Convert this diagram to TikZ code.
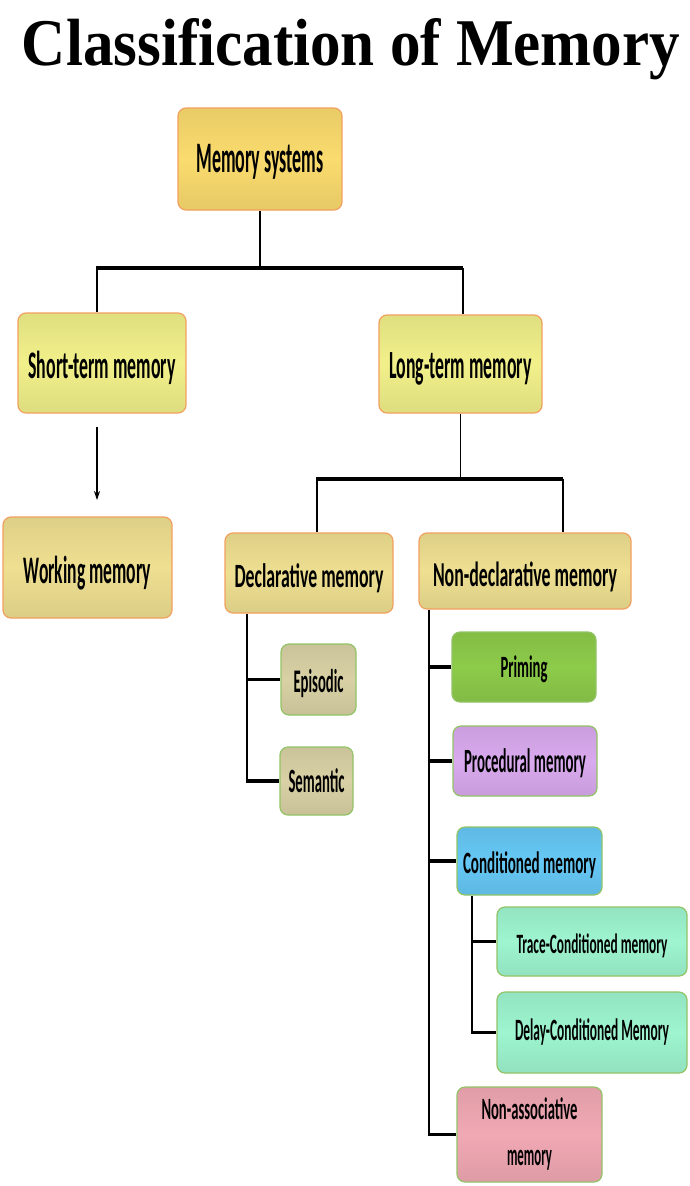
\documentclass[tikz,border=0pt]{standalone}
\usepackage{fontspec}
\setmainfont{Carlito}
\newfontfamily\titlefont{Liberation Serif}
\usetikzlibrary{calc,arrows.meta}
\definecolor{cMS}{HTML}{FADB6E}
\definecolor{cST}{HTML}{F1F08A}
\definecolor{cKH}{HTML}{EEDF91}
\definecolor{cTAN}{HTML}{D9D1A5}
\definecolor{cPR}{HTML}{8DCB4A}
\definecolor{cPROC}{HTML}{D9AAEE}
\definecolor{cCM}{HTML}{66C8F5}
\definecolor{cMINT}{HTML}{9EF5D0}
\definecolor{cNA}{HTML}{F1A9B4}
\definecolor{cOR}{HTML}{F2A060}
\definecolor{cGR}{HTML}{92C466}
\newcommand\bt[3]{\resizebox{#1pt}{\height}{\fontsize{#2pt}{#2pt}\selectfont\bfseries #3}}
\begin{document}
\begin{tikzpicture}[x=1pt,y=-1pt,
  box/.style={rounded corners=8pt, inner sep=0pt, line width=1.2pt, text=black,
    top color=#1!93!black, bottom color=#1!92!black, middle color=#1},
  ybox/.style={box=#1, draw=cOR},
  gbox/.style={box=#1, draw=cGR},
  bl/.style={text depth=0pt, text height=#1pt},
  vln/.style={line width=1.7pt},
  hbar/.style={line width=4pt},
  brn/.style={line width=3.5pt}]
\useasboundingbox (0,0) rectangle (689,1186);
\fill[white] (0,0) rectangle (689,1186);

\node[anchor=base] (title) at (351,65) {\titlefont\bfseries\resizebox{658pt}{47pt}{Classification of Memory}};

\node[ybox=cMS, bl=26, minimum width=164pt, minimum height=102pt] (ms) at (260,159) {\bt{127}{43.5}{Memory systems}};
\node[ybox=cST, bl=30, minimum width=168pt, minimum height=100pt] (stm) at (102,363) {\bt{147}{39}{Short-term memory}};
\node[ybox=cST, bl=28, minimum width=163pt, minimum height=98pt] (ltm) at (460.5,364) {\bt{142}{40}{Long-term memory}};
\node[ybox=cKH, bl=31, minimum width=169pt, minimum height=101pt] (wm) at (87.5,567.5) {\bt{127}{39}{Working memory}};
\node[ybox=cKH, bl=28, minimum width=168pt, minimum height=80pt] (dm) at (309,573) {\bt{149}{34}{Declarative memory}};
\node[ybox=cKH, bl=30, minimum width=212pt, minimum height=76pt] (nd) at (525,571) {\bt{184}{35}{Non-declarative memory}};
\node[gbox=cTAN, bl=25, minimum width=75pt, minimum height=71pt] (ep) at (318.5,679.5) {\bt{50}{33}{Episodic}};
\node[gbox=cTAN, bl=22, minimum width=73pt, minimum height=68pt] (se) at (316.5,781) {\bt{56}{34}{Semantic}};
\node[gbox=cPR, bl=20, minimum width=144pt, minimum height=70pt] (pr) at (524,667) {\bt{47}{31}{Priming}};
\node[gbox=cPROC, bl=22, minimum width=144pt, minimum height=70pt] (proc) at (525,761) {\bt{122}{34}{Procedural memory}};
\node[gbox=cCM, bl=24, minimum width=145pt, minimum height=68pt] (cm) at (529.5,861) {\bt{133}{31}{Conditioned memory}};
\node[gbox=cMINT, bl=23, minimum width=190pt, minimum height=69pt] (tc) at (592,941.5) {\bt{151}{28}{Trace-Conditioned memory}};
\node[gbox=cMINT, bl=15, minimum width=190pt, minimum height=81pt] (dc) at (592,1032.5) {\bt{154}{31}{Delay-Conditioned Memory}};
\node[gbox=cNA, minimum width=145pt, minimum height=95pt, align=center, font=\fontsize{31pt}{46pt}\selectfont] (na) at (529.5,1134.5) {\bt{96}{31}{Non-associative}\\\bt{45}{31}{memory}};

% level 1
\coordinate (b1l) at (97,268);
\coordinate (b1r) at (463,268);
\draw[vln] (ms.south) -- (ms.south |- b1l);
\draw[hbar] ([xshift=-0.85pt]b1l) -- (b1r);
\draw[vln] (b1l) -- (b1l |- stm.north);
\draw[vln] (b1r) -- (b1r |- ltm.north);

% arrow to working memory
\coordinate (a1) at (97,427);
\coordinate (a2) at (97,500);
\draw[line width=1.2pt, -{Stealth[length=9pt,width=6pt]}] (a1) -- (a2);

% level 2
\coordinate (b2l) at (317,479);
\coordinate (b2r) at (563,479);
\draw[vln] (ltm.south) -- (ltm.south |- b2l);
\draw[hbar] ([xshift=-0.85pt]b2l) -- (b2r);
\draw[vln] (b2l) -- (b2l |- dm.north);
\draw[vln] (b2r) -- (b2r |- nd.north);

% declarative branches
\coordinate (dv) at (247,0);
\draw[vln] (dm.south -| dv) -- ($(se.west -| dv)+(0,1.75)$);
\draw[brn] (ep.west -| dv) -- (ep.west);
\draw[brn] (se.west -| dv) -- (se.west);

% non-declarative branches
\coordinate (nv) at (429,0);
\draw[vln] (nd.south -| nv) -- ($(na.west -| nv)+(0,1.75)$);
\draw[brn] (pr.west -| nv) -- (pr.west);
\draw[brn] (proc.west -| nv) -- (proc.west);
\draw[brn] (cm.west -| nv) -- (cm.west);
\draw[brn] (na.west -| nv) -- (na.west);

% conditioned branches
\coordinate (cv) at (472,0);
\draw[vln] (cm.south -| cv) -- ($(dc.west -| cv)+(0,1.75)$);
\draw[brn] (tc.west -| cv) -- (tc.west);
\draw[brn] (dc.west -| cv) -- (dc.west);
\end{tikzpicture}
\end{document}
